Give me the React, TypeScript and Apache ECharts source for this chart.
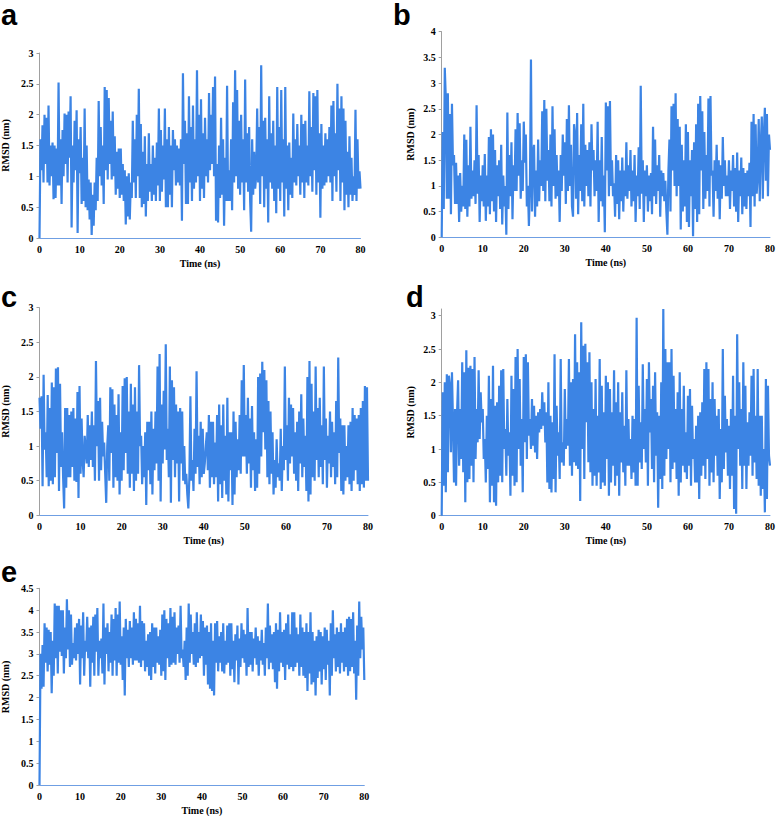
import React, { useEffect, useRef } from "react";
import * as echarts from "echarts";

// Sampling step of the RMSD traces (ns)
const TIME_STEP_NS = 0.25;

// one row per ns: values at t, t+0.25, t+0.5, t+0.75
const rmsdA = [
  0, 1.6, 1.1, 1.83, 0.9, 2.0, 1.2, 1.95, 0.9, 2.15, 0.85, 1.5, 1.0, 1.55, 0.63, 1.5,
  0.65, 1.45, 0.85, 2.52, 0.85, 1.6, 0.55, 1.75, 1.0, 2.02, 1.2, 2.0, 0.9, 2.05, 1.3, 2.3,
  0.17, 1.5, 0.9, 1.9, 1.1, 2.07, 0.08, 1.6, 1.05, 1.8, 0.55, 1.3, 0.6, 2.1, 0.5, 1.5,
  0.45, 0.95, 0.3, 0.9, 0.05, 0.7, 0.2, 0.9, 0.45, 1.3, 0.6, 2.22, 1.0, 1.8, 0.85, 1.5,
  0.55, 2.45, 1.1, 2.4, 0.95, 2.27, 1.2, 1.9, 0.95, 2.05, 1.0, 1.65, 0.7, 1.4, 0.8, 1.45,
  0.65, 1.45, 0.7, 1.2, 0.6, 1.1, 0.22, 1.0, 0.35, 1.05, 0.3, 0.9, 0.65, 1.9, 0.9, 1.6,
  0.65, 2.0, 1.0, 2.42, 0.65, 1.85, 0.5, 1.4, 0.55, 1.65, 0.35, 1.2, 0.6, 1.7, 0.75, 1.2,
  0.6, 1.5, 0.7, 1.3, 0.6, 1.55, 0.85, 2.1, 0.6, 1.75, 0.75, 1.5, 0.95, 2.1, 0.5, 1.6,
  0.5, 1.8, 0.7, 1.5, 0.5, 1.75, 1.1, 1.6, 0.85, 1.5, 0.9, 1.45, 0.85, 1.6, 0.28, 2.67,
  1.2, 1.9, 0.55, 1.7, 0.55, 2.3, 0.9, 1.8, 0.6, 2.15, 0.8, 1.6, 0.9, 2.72, 1.0, 2.0,
  0.6, 2.25, 0.8, 1.7, 0.65, 1.95, 1.0, 1.6, 0.9, 2.35, 1.1, 2.0, 1.2, 2.45, 1.0, 2.62,
  0.28, 1.2, 0.25, 1.5, 0.65, 1.95, 0.7, 1.6, 0.2, 1.3, 0.6, 2.47, 0.6, 1.1, 0.6, 1.6,
  0.45, 2.2, 0.9, 2.72, 1.0, 2.4, 0.8, 1.9, 0.7, 2.0, 0.9, 1.6, 0.45, 2.57, 0.9, 1.7,
  0.75, 1.8, 0.6, 0.1, 1.6, 0.7, 1.4, 0.8, 1.0, 2.1, 0.9, 1.8, 0.55, 2.8, 1.0, 1.9,
  0.5, 1.95, 0.8, 1.6, 0.25, 2.3, 0.9, 1.7, 0.8, 1.9, 0.6, 1.5, 0.4, 2.45, 0.8, 1.8,
  0.6, 2.4, 0.9, 1.6, 0.35, 2.45, 0.8, 1.5, 0.45, 1.55, 0.7, 1.3, 0.65, 2.02, 0.9, 1.6,
  0.85, 1.85, 1.0, 1.5, 0.7, 2.0, 0.9, 1.85, 0.65, 1.9, 0.9, 1.5, 0.85, 2.38, 1.0, 1.8,
  0.75, 2.35, 1.1, 2.3, 0.7, 2.4, 0.9, 1.7, 0.33, 1.85, 0.8, 1.5, 0.85, 1.7, 0.9, 1.6,
  1.0, 1.8, 0.9, 2.15, 0.6, 2.22, 1.0, 1.7, 0.75, 2.5, 1.1, 2.1, 0.6, 2.3, 0.9, 2.1,
  0.45, 1.9, 0.7, 1.4, 0.5, 1.65, 0.7, 1.3, 0.6, 1.0, 0.7, 2.08, 0.6, 1.6, 0.8, 1.08,
  0.8,
];

const rmsdB = [
  0, 2.05, 0.55, 3.3, 2.7, 0.75, 2.8, 0.75, 2.4, 0.45, 2.6, 1.4, 1.6, 0.65, 1.45, 0.65,
  1.2, 0.3, 1.25, 0.5, 1.0, 0.6, 2.0, 0.55, 1.9, 0.4, 1.4, 0.6, 2.15, 0.75, 1.3, 0.8,
  1.5, 0.65, 2.57, 0.85, 1.6, 0.3, 1.2, 0.7, 1.4, 0.6, 1.62, 0.32, 1.2, 0.6, 1.95, 0.45,
  2.1, 0.7, 2.0, 0.5, 1.7, 0.3, 1.4, 0.8, 1.5, 0.55, 1.8, 0.25, 1.2, 0.6, 1.0, 0.05,
  2.43, 0.55, 1.6, 0.8, 1.85, 0.35, 1.4, 0.9, 2.1, 0.9, 2.42, 1.2, 2.22, 0.75, 1.5, 0.9,
  2.25, 1.45, 2.0, 0.6, 1.0, 0.22, 1.0, 3.46, 0.5, 1.6, 1.8, 0.4, 1.3, 0.6, 1.9, 0.7,
  1.5, 1.0, 2.45, 0.9, 2.67, 0.7, 2.5, 1.1, 1.7, 0.7, 2.0, 0.6, 2.55, 1.0, 2.1, 0.75,
  1.6, 0.8, 1.3, 0.3, 1.6, 0.9, 2.0, 1.2, 1.85, 0.65, 2.3, 0.9, 2.57, 1.0, 1.8, 0.6,
  0.4, 2.2, 2.0, 0.75, 2.42, 0.45, 1.6, 0.9, 2.2, 0.7, 2.6, 0.6, 1.8, 1.0, 1.7, 0.8,
  1.85, 0.6, 2.2, 1.3, 1.7, 0.8, 1.5, 0.9, 2.25, 0.3, 1.5, 0.7, 1.95, 0.6, 1.2, 0.1,
  2.62, 1.3, 2.55, 0.8, 2.65, 1.0, 1.5, 0.8, 1.05, 0.4, 1.6, 0.65, 1.5, 0.35, 1.3, 0.7,
  1.55, 0.5, 1.3, 0.8, 1.85, 0.75, 1.4, 0.9, 1.7, 0.6, 1.3, 0.7, 1.6, 0.3, 1.2, 0.8,
  1.75, 0.55, 2.95, 0.85, 1.5, 0.3, 1.3, 0.8, 1.4, 0.5, 1.2, 0.7, 1.25, 0.45, 2.15, 0.8,
  1.9, 0.65, 1.4, 0.9, 1.6, 0.4, 1.3, 0.8, 1.25, 0.7, 1.1, 0.5, 0.05, 1.3, 1.9, 0.5,
  2.55, 1.3, 2.6, 1.0, 2.8, 0.8, 2.3, 1.0, 2.15, 0.15, 1.8, 0.5, 1.5, 0.6, 2.2, 0.3,
  2.05, 0.2, 1.5, 0.8, 1.7, 0.02, 1.85, 0.55, 2.2, 0.3, 2.6, 0.45, 2.75, 1.3, 2.45, 0.55,
  2.05, 0.75, 1.6, 0.9, 2.7, 0.6, 2.75, 1.2, 1.3, 0.4, 1.5, 0.9, 1.8, 0.75, 1.5, 0.35,
  1.4, 0.75, 1.95, 1.0, 1.5, 0.8, 1.2, 0.8, 1.5, 0.55, 1.3, 0.9, 1.6, 0.6, 1.35, 0.5,
  1.65, 0.3, 1.3, 0.8, 1.55, 0.45, 1.35, 0.6, 1.25, 0.55, 1.3, 0.8, 1.45, 0.2, 2.25, 0.8,
  2.4, 0.6, 2.2, 0.85, 1.2, 2.3, 0.7, 1.8, 2.35, 0.75, 2.0, 2.52, 1.1, 2.4, 0.8, 2.0,
  1.7,
];

const rmsdC = [
  1.7, 1.25, 1.72, 0.42, 2.03, 0.95, 1.2, 0.55, 1.74, 0.42, 1.55, 0.5, 1.92, 0.45, 1.85, 0.55,
  2.12, 0.9, 2.14, 0.35, 1.9, 0.7, 1.2, 0.55, 0.1, 1.55, 0.4, 1.55, 0.55, 1.45, 0.55, 1.5,
  0.7, 1.55, 0.5, 1.4, 0.48, 1.78, 0.25, 1.87, 0.6, 1.4, 0.8, 0.55, 1.15, 0.95, 0.75, 1.45,
  0.7, 1.3, 0.8, 1.5, 0.7, 1.3, 0.5, 2.23, 1.0, 1.65, 0.5, 1.7, 0.65, 1.35, 0.85, 1.05,
  0.6, 0.18, 1.0, 1.3, 0.5, 1.85, 0.9, 1.82, 0.4, 1.6, 0.55, 1.45, 0.5, 1.75, 0.3, 1.2,
  0.5, 1.87, 0.65, 1.98, 0.9, 2.0, 0.6, 1.5, 0.4, 1.9, 0.6, 1.6, 0.35, 1.85, 0.5, 1.5,
  0.6, 2.17, 1.0, 1.15, 0.45, 1.0, 0.55, 1.2, 0.15, 1.35, 0.65, 1.35, 0.45, 1.5, 0.3, 1.25,
  0.65, 1.5, 0.75, 2.15, 0.5, 2.33, 0.2, 1.6, 0.75, 1.8, 0.95, 2.47, 0.8, 1.25, 0.55, 2.15,
  0.18, 1.95, 0.8, 1.85, 0.55, 1.6, 0.75, 1.5, 0.2, 1.55, 0.75, 1.5, 0.5, 1.0, 0.45, 0.6,
  0.3, 0.1, 0.55, 1.72, 0.5, 0.8, 0.35, 1.25, 0.6, 2.08, 0.7, 1.15, 0.45, 1.35, 0.55, 1.25,
  0.6, 0.75, 1.0, 1.2, 0.65, 1.45, 0.4, 1.35, 0.55, 1.35, 0.45, 1.05, 0.55, 1.45, 0.2, 1.6,
  0.45, 1.3, 0.25, 1.6, 0.5, 1.15, 0.3, 1.7, 0.2, 1.2, 0.65, 1.2, 0.15, 1.5, 0.3, 1.35,
  0.55, 1.1, 0.65, 1.45, 0.6, 1.95, 0.85, 2.17, 0.85, 1.45, 0.6, 1.7, 0.75, 1.4, 0.4, 1.58,
  0.65, 1.2, 0.35, 1.1, 0.4, 2.0, 0.6, 2.05, 0.85, 2.22, 1.2, 2.1, 0.95, 1.95, 0.55, 1.65,
  0.45, 1.5, 0.6, 1.2, 0.3, 0.8, 0.4, 1.1, 0.55, 0.75, 0.5, 1.25, 0.35, 1.0, 0.65, 2.15,
  0.8, 1.3, 0.5, 1.7, 0.75, 1.6, 0.85, 1.55, 0.6, 1.2, 0.5, 1.35, 0.35, 1.5, 0.75, 1.75,
  0.55, 1.4, 0.7, 1.15, 0.35, 2.0, 0.2, 2.23, 0.3, 1.9, 0.55, 1.5, 0.5, 2.15, 0.8, 1.55,
  0.55, 1.7, 0.7, 1.3, 0.45, 2.15, 0.8, 1.4, 0.4, 1.15, 0.75, 1.5, 0.55, 1.35, 0.7, 1.2,
  0.45, 1.65, 0.55, 2.28, 0.9, 1.4, 0.35, 1.3, 0.3, 1.3, 0.5, 1.0, 0.55, 1.3, 0.45, 1.35,
  0.35, 1.55, 0.5, 1.45, 0.65, 1.4, 0.45, 1.45, 0.35, 1.55, 0.45, 1.65, 0.4, 1.87, 0.5, 1.85,
  0.5,
];

const rmsdD = [
  0, 1.85, 0.45, 2.0, 0.35, 2.12, 0.65, 2.1, 1.95, 0.95, 2.15, 1.4, 0.5, 1.6, 0.45, 1.55,
  2.03, 0.75, 1.6, 0.85, 2.3, 0.65, 2.15, 0.2, 2.48, 0.5, 2.22, 0.55, 2.25, 0.75, 2.2, 0.5,
  2.38, 0.85, 1.6, 1.1, 2.18, 1.15, 1.85, 1.4, 1.6, 0.85, 1.15, 0.5, 1.5, 0.7, 2.1, 0.2,
  1.75, 0.45, 2.25, 0.2, 1.65, 0.15, 1.7, 0.5, 1.95, 0.6, 2.18, 0.5, 2.2, 1.0, 1.3, 0.6,
  1.75, 0.9, 1.25, 0.3, 2.1, 0.6, 1.9, 0.45, 2.38, 0.5, 2.5, 1.0, 2.05, 0.75, 1.45, 0.35,
  2.38, 1.1, 2.42, 0.85, 2.3, 1.2, 1.45, 1.0, 1.75, 1.05, 1.65, 0.95, 1.5, 0.85, 1.55, 1.25,
  1.6, 1.3, 1.85, 1.35, 1.7, 1.1, 1.55, 0.5, 2.0, 0.4, 1.5, 0.35, 1.4, 0.55, 2.42, 0.35,
  1.65, 0.9, 1.25, 0.55, 2.35, 0.8, 1.1, 0.75, 1.9, 1.0, 1.45, 1.05, 2.35, 0.75, 2.0, 0.6,
  2.05, 0.8, 2.72, 0.75, 2.3, 0.7, 2.15, 0.22, 2.9, 1.0, 2.55, 0.55, 2.58, 1.4, 2.3, 0.8,
  2.45, 0.65, 2.0, 0.45, 1.6, 0.6, 2.05, 0.45, 1.5, 0.65, 2.35, 0.4, 1.95, 0.5, 1.55, 0.45,
  2.1, 0.85, 2.0, 0.3, 1.9, 0.5, 1.55, 0.75, 2.18, 0.45, 1.7, 0.6, 2.0, 0.3, 1.55, 0.8,
  1.85, 0.65, 1.35, 0.45, 2.18, 0.75, 1.45, 0.75, 1.15, 0.55, 1.5, 0.65, 1.45, 0.45, 2.97, 0.45,
  1.95, 0.8, 1.4, 0.7, 2.27, 1.0, 1.6, 0.8, 2.05, 0.45, 2.3, 1.25, 1.75, 0.7, 1.95, 0.5,
  2.15, 0.9, 1.55, 0.12, 1.5, 0.55, 2.0, 0.4, 3.1, 0.6, 2.5, 0.85, 2.3, 1.0, 2.3, 0.5,
  2.5, 0.7, 2.1, 0.8, 1.6, 0.55, 1.85, 0.3, 2.15, 0.5, 1.6, 0.75, 1.95, 0.65, 1.25, 0.55,
  1.8, 0.75, 1.9, 0.45, 1.65, 0.85, 1.15, 0.5, 1.35, 0.5, 1.5, 0.25, 1.55, 0.6, 1.7, 0.75,
  2.2, 0.55, 2.3, 0.85, 2.2, 0.45, 1.75, 0.65, 2.0, 0.5, 1.75, 0.9, 1.5, 0.6, 1.6, 0.25,
  1.3, 0.5, 2.5, 0.7, 1.8, 0.95, 1.45, 0.6, 1.35, 0.4, 1.6, 0.6, 2.1, 0.1, 1.5, 0.03,
  2.72, 1.0, 2.0, 0.75, 1.6, 0.4, 2.3, 0.75, 1.95, 0.4, 1.4, 0.75, 1.55, 0.9, 2.1, 0.6,
  2.2, 0.8, 1.5, 0.55, 2.2, 0.45, 1.5, 0.3, 1.5, 0.4, 1.0, 0.05, 2.05, 0.25, 1.95, 0.9,
  0.75,
];

const rmsdE = [
  0, 3.0, 2.2, 3.2, 2.25, 3.7, 2.8, 3.6, 2.6, 3.55, 2.75, 3.5, 2.1, 3.3, 2.5, 4.15,
  2.9, 4.1, 2.55, 4.1, 3.05, 4.0, 2.95, 4.0, 2.55, 3.6, 2.9, 4.25, 3.1, 4.0, 2.7, 3.9,
  2.75, 3.25, 2.9, 3.6, 2.85, 3.7, 3.0, 3.8, 2.3, 3.65, 2.9, 3.95, 2.5, 3.3, 3.05, 3.85,
  2.9, 3.6, 2.25, 3.65, 2.8, 3.85, 2.5, 3.9, 3.05, 4.05, 2.5, 3.3, 2.9, 3.35, 2.55, 4.15,
  2.3, 3.6, 3.0, 3.7, 2.6, 3.5, 2.8, 3.9, 2.5, 3.8, 2.85, 4.05, 2.5, 3.9, 2.8, 4.2,
  2.75, 3.4, 2.4, 3.6, 2.05, 3.8, 2.9, 3.55, 2.7, 3.75, 2.9, 3.6, 2.75, 3.95, 2.85, 3.8,
  2.85, 3.7, 2.8, 4.1, 2.7, 3.75, 2.85, 3.7, 2.6, 3.3, 2.7, 3.45, 2.5, 3.5, 2.4, 3.7,
  2.7, 3.6, 2.55, 3.6, 2.8, 3.4, 2.75, 3.55, 2.5, 3.9, 2.6, 4.0, 2.4, 3.8, 2.9, 3.7,
  2.7, 4.05, 2.75, 3.85, 2.8, 3.95, 2.75, 3.6, 3.0, 3.65, 2.8, 4.1, 2.9, 3.1, 2.7, 3.3,
  2.4, 3.6, 2.5, 4.15, 2.8, 3.9, 3.0, 3.5, 2.75, 3.7, 2.7, 3.95, 2.8, 3.5, 2.9, 3.9,
  2.95, 3.75, 2.5, 3.6, 2.75, 3.65, 2.3, 3.5, 2.2, 3.7, 2.15, 3.3, 2.05, 3.7, 2.8, 3.75,
  2.6, 3.4, 2.8, 3.5, 2.6, 3.7, 2.55, 3.3, 2.75, 3.65, 2.8, 3.7, 2.5, 3.7, 2.65, 3.3,
  2.35, 3.45, 2.85, 3.65, 2.3, 3.35, 2.7, 3.7, 2.9, 3.55, 2.8, 3.45, 2.5, 4.05, 2.7, 3.5,
  2.75, 3.5, 2.6, 3.35, 2.9, 3.6, 2.75, 3.4, 2.5, 3.3, 2.85, 3.55, 2.75, 3.25, 2.5, 3.6,
  2.9, 4.15, 2.65, 3.65, 2.8, 3.45, 2.65, 3.5, 2.35, 3.7, 2.2, 3.55, 2.6, 3.95, 2.8, 3.5,
  2.7, 3.55, 2.4, 3.7, 2.75, 3.9, 2.65, 3.45, 2.7, 3.95, 2.6, 3.95, 2.7, 3.6, 2.8, 3.45,
  2.5, 3.9, 2.7, 3.6, 2.5, 3.5, 2.45, 3.7, 2.15, 3.5, 2.55, 3.95, 2.3, 3.5, 2.35, 3.3,
  2.05, 3.4, 2.45, 3.55, 2.6, 3.5, 2.3, 3.4, 2.65, 3.6, 2.4, 3.55, 2.75, 3.3, 2.05, 3.7,
  2.5, 4.0, 2.9, 3.45, 2.6, 3.6, 2.7, 3.5, 2.55, 3.7, 2.8, 3.5, 2.6, 3.6, 2.7, 3.8,
  2.5, 3.85, 2.6, 3.8, 2.7, 3.95, 2.55, 3.3, 1.95, 3.65, 2.5, 4.2, 2.9, 3.85, 3.1, 3.6,
  2.4,
];

const PANEL_LETTERS = ["a", "b", "c", "d", "e"];
const Y_MAX = [3, 4, 3, 3.1, 4.5];

const LINE_COLOR = "#3c84e4";
const SERIF = "Liberation Serif";

// layout of each panel: plot rect, letter position
const PANELS = [
  { left: 39.5, top: 53, width: 321, height: 185, lx: 1, ly: 15, nameX: 5 },
  { left: 441.7, top: 31.7, width: 331, height: 205.6, lx: 393, ly: 15, nameX: 410 },
  { left: 39.5, top: 307.7, width: 328.5, height: 207.6, lx: 1, ly: 297, nameX: 5 },
  { left: 441.7, top: 309, width: 330.6, height: 206.7, lx: 406, ly: 297, nameX: 410 },
  { left: 39.5, top: 588.3, width: 324.8, height: 197.4, lx: 1, ly: 572, nameX: 5 },
];

const ALL_DATA = [rmsdA, rmsdB, rmsdC, rmsdD, rmsdE];

export default function App() {
  const ref = useRef<HTMLDivElement>(null);
  useEffect(() => {
    if (!ref.current) return;
    const chart = echarts.init(ref.current, null, { renderer: "svg" });
    const grids: any[] = [];
    const xAxes: any[] = [];
    const yAxes: any[] = [];
    const series: any[] = [];
    const graphics: any[] = [];
    PANELS.forEach((p, i) => {
      grids.push({ left: p.left, top: p.top, width: p.width, height: p.height, containLabel: false });
      xAxes.push({
        type: "value",
        gridIndex: i,
        min: 0,
        max: 80,
        interval: 10,
        name: "Time (ns)",
        nameLocation: "middle",
        nameGap: 20,
        nameTextStyle: { fontFamily: SERIF, fontWeight: "bold", fontSize: 10, color: "#000" },
        axisLine: { show: true, lineStyle: { color: "#6f9fe3", width: 1 } },
        axisTick: { show: false },
        splitLine: { show: false },
        axisLabel: { fontFamily: SERIF, fontWeight: "bold", fontSize: 10, color: "#000", margin: 6 },
      });
      yAxes.push({
        type: "value",
        gridIndex: i,
        min: 0,
        max: Y_MAX[i],
        interval: 0.5,
        axisLine: { show: true, lineStyle: { color: "#a0a0a0", width: 1 } },
        axisTick: { show: true, length: 3, lineStyle: { color: "#a0a0a0" } },
        splitLine: { show: false },
        axisLabel: {
          fontFamily: SERIF,
          fontWeight: "bold",
          fontSize: 10,
          color: "#000",
          margin: 6,
          showMaxLabel: Y_MAX[i] % 0.5 === 0,
        },
      });
      series.push({
        type: "line",
        xAxisIndex: i,
        yAxisIndex: i,
        showSymbol: false,
        symbol: "none",
        lineStyle: { color: LINE_COLOR, width: 2.2, join: "miter" },
        data: ALL_DATA[i].map((v, k) => [k * TIME_STEP_NS, v]),
      });
      graphics.push({
        type: "text",
        x: p.lx,
        y: p.ly,
        style: {
          text: PANEL_LETTERS[i],
          font: "bold 29px Liberation Sans",
          fill: "#000",
          align: "left",
          verticalAlign: "middle",
        },
      });
      graphics.push({
        type: "text",
        x: p.nameX,
        y: p.top + p.height / 2,
        rotation: Math.PI / 2,
        style: {
          text: "RMSD (nm)",
          font: `bold 10px ${SERIF}`,
          fill: "#000",
          align: "center",
          verticalAlign: "middle",
        },
      });
    });
    chart.setOption({
      animation: false,
      backgroundColor: "#fff",
      grid: grids,
      xAxis: xAxes,
      yAxis: yAxes,
      series,
      graphic: graphics,
    });
    return () => chart.dispose();
  }, []);
  return (
    <div
      ref={ref}
      style={{ position: "fixed", left: 0, top: 0, width: 778, height: 816, background: "#fff" }}
    />
  );
}
